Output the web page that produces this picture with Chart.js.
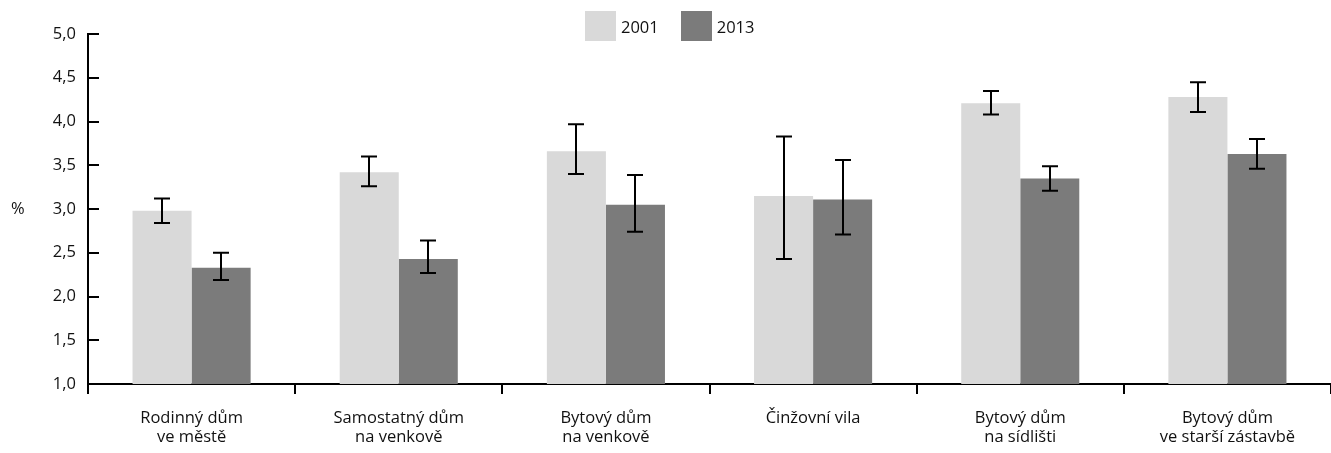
<!DOCTYPE html>
<html>
<head>
<meta charset="utf-8">
<script src="https://cdn.jsdelivr.net/npm/chart.js@4.4.1/dist/chart.umd.min.js"></script>
<style>
html,body{margin:0;padding:0;background:#fff;}
#wrap{position:relative;width:1331px;height:453px;}
#legend{position:absolute;top:11px;left:585px;display:flex;align-items:center;font:16.5px "Open Sans",sans-serif;color:#111;}
#legend .item{display:flex;align-items:center;margin-right:22px;}
#legend .box{width:31px;height:30px;margin-right:5px;}
</style>
</head>
<body>
<div id="wrap">
<canvas id="chart" width="1331" height="453"></canvas>
<div id="legend"></div>
</div>
<script>
// categories (two-line labels)
const categories=[
["Rodinný dům","ve městě"],
["Samostatný dům","na venkově"],
["Bytový dům","na venkově"],
["Činžovní vila"],
["Bytový dům","na sídlišti"],
["Bytový dům","ve starší zástavbě"]
];

const seriesNames=["2001","2013"];
const seriesColors=["#d9d9d9","#7b7b7b"];

// values (%)
const v2001=[2.98,3.42,3.66,3.15,4.21,4.28];
const v2013=[2.33,2.43,3.05,3.11,3.35,3.63];

// error bar limits
const lo2001=[2.84,3.26,3.40,2.43,4.08,4.11];
const hi2001=[3.12,3.60,3.97,3.83,4.35,4.45];
const lo2013=[2.19,2.27,2.74,2.71,3.21,3.46];
const hi2013=[2.50,2.64,3.39,3.56,3.49,3.80];

const yTicks=[1,1.5,2,2.5,3,3.5,4,4.5,5];

const FONT='"Open Sans", sans-serif';
const FSIZE=16.5;

// error bars drawn from the y scale
const errorBars={
  id:'errorBars',
  afterDatasetsDraw(chart){
    const ctx=chart.ctx;
    const y=chart.scales.y;
    const lows=[lo2001,lo2013], highs=[hi2001,hi2013];
    ctx.save();
    ctx.strokeStyle='#000';
    ctx.lineWidth=2;
    chart.data.datasets.forEach((ds,di)=>{
      const meta=chart.getDatasetMeta(di);
      meta.data.forEach((bar,i)=>{
        const x=Math.round(bar.x);
        const y1=y.getPixelForValue(lows[di][i]);
        const y2=y.getPixelForValue(highs[di][i]);
        ctx.beginPath();
        ctx.moveTo(x,y1);ctx.lineTo(x,y2);
        ctx.moveTo(x-8,y1);ctx.lineTo(x+8,y1);
        ctx.moveTo(x-8,y2);ctx.lineTo(x+8,y2);
        ctx.stroke();
      });
    });
    ctx.restore();
  }
};

// inward y ticks and the "%" label
const yDecor={
  id:'yDecor',
  afterDraw(chart){
    const ctx=chart.ctx;
    const y=chart.scales.y;
    const left=chart.chartArea.left;
    ctx.save();
    ctx.strokeStyle='#000';
    ctx.lineWidth=2;
    yTicks.forEach(t=>{
      const py=Math.round(y.getPixelForValue(t));
      ctx.beginPath();
      ctx.moveTo(left,py);ctx.lineTo(left+11,py);
      ctx.stroke();
    });
    ctx.fillStyle='#111';
    ctx.font=FSIZE+'px '+FONT;
    ctx.textAlign='left';
    ctx.textBaseline='middle';
    ctx.fillText('%',11,y.getPixelForValue(3));
    ctx.restore();
  }
};

new Chart(document.getElementById('chart'),{
  type:'bar',
  data:{
    labels:categories,
    datasets:[
      {label:seriesNames[0],data:v2001,backgroundColor:seriesColors[0]},
      {label:seriesNames[1],data:v2013,backgroundColor:seriesColors[1]}
    ]
  },
  options:{
    responsive:false,
    animation:false,
    layout:{padding:{top:34,right:0,left:0,bottom:0}},
    datasets:{bar:{categoryPercentage:0.57,barPercentage:1.0}},
    plugins:{legend:{display:false},tooltip:{enabled:false}},
    scales:{
      x:{
        grid:{display:true,drawOnChartArea:false,offset:true,color:'#000',lineWidth:2,tickLength:10},
        border:{display:true,color:'#000',width:2},
        ticks:{color:'#111',font:{family:FONT,size:FSIZE,lineHeight:1.2},padding:14,maxRotation:0,autoSkip:false},
        afterFit(s){s.height=69;}
      },
      y:{
        min:1,max:5,
        afterBuildTicks(s){s.ticks=yTicks.map(v=>({value:v}));},
        grid:{display:false,drawTicks:false},
        border:{display:true,color:'#000',width:2},
        ticks:{color:'#111',font:{family:FONT,size:FSIZE},padding:12,
          callback:v=>v.toFixed(1).replace('.',',')},
        afterFit(s){s.width=88;}
      }
    }
  },
  plugins:[errorBars,yDecor]
});

// legend
const leg=document.getElementById('legend');
seriesNames.forEach((n,i)=>{
  const it=document.createElement('div');
  it.className='item';
  it.innerHTML='<span class="box" style="background:'+seriesColors[i]+'"></span><span>'+n+'</span>';
  leg.appendChild(it);
});
</script>
</body>
</html>
